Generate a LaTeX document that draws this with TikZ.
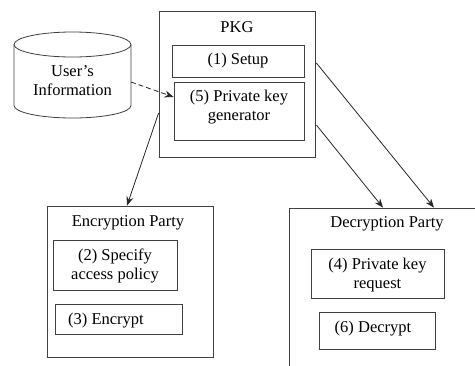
\documentclass[tikz,border=0pt]{standalone}
\usepackage{fontspec}
\setmainfont{Liberation Serif}
\usetikzlibrary{calc,arrows.meta}
\begin{document}
\begin{tikzpicture}[x=1pt,y=-1pt,
  box/.style={draw=black!75,line width=0.8pt,rectangle,inner sep=0pt},
  lbl/.style={font=\fontsize{16.5}{19}\selectfont,align=center,inner sep=0pt,text=black},
  arr/.style={draw=black!85,line width=0.8pt,-{Stealth[length=9pt,width=7pt]}}]
\useasboundingbox (0,0) rectangle (475,365);
\clip (0,0) rectangle (475,365);
% boxes
\node[box,minimum width=156pt,minimum height=146pt] (pkg) at (237,84) {};
\node[box,minimum width=132pt,minimum height=32pt] (setup) at (238,61) {};
\node[box,minimum width=130pt,minimum height=58pt] (gen) at (239,111) {};
\node[box,minimum width=166pt,minimum height=151pt] (enc) at (130,281.5) {};
\node[box,minimum width=124pt,minimum height=50pt] (spec) at (115,265) {};
\node[box,minimum width=127pt,minimum height=30pt] (encr) at (118.5,319) {};
\node[box,minimum width=196pt,minimum height=167pt] (dec) at (387,291.5) {};
\node[box,minimum width=133pt,minimum height=49pt] (req) at (377.5,273.5) {};
\node[box,minimum width=116pt,minimum height=37pt] (decr) at (377,330.5) {};
% cylinder
\draw[black!75,line width=0.8pt] (14,44.5) -- (14,105.5) arc[start angle=180,end angle=360,x radius=58.5pt,y radius=12.5pt] -- (131,44.5);
\draw[black!75,line width=0.8pt] (72.5,44.5) ellipse[x radius=58.5pt,y radius=12.5pt];
\coordinate (dbR) at (131,82);
% labels
\node[lbl] (dbt) at (72.5,80.5) {User’s\\Information};
\node[lbl] (pkgt) at (237,27) {PKG};
\node[lbl] (setupt) at (238,61) {(1) Setup};
\node[lbl] (gent) at (239,107) {(5) Private key\\generator};
\node[lbl] (enct) at (128,223) {Encryption Party};
\node[lbl] (spect) at (115,265.5) {(2) Specify\\access policy};
\node[lbl] (encrt) at (106,321) {(3) Encrypt};
\node[lbl] (dect) at (387,224) {Decryption Party};
\node[lbl] (reqt) at (377.5,275.5) {(4) Private key\\request};
\node[lbl] (decrt) at (373,329) {(6) Decrypt};
% connectors
\draw[arr,dashed,dash pattern=on 5pt off 3pt] (dbR) -- ($(gen.west)+(0,-14)$);
\draw[arr] ($(pkg.west)+(0,29)$) -- ($(enc.north)+(-3,0)$);
\draw[arr] ($(pkg.east)+(1,-21)$) -- ($(dec.north)+(47,0)$);
\draw[arr] ($(pkg.east)+(1,41)$) -- ($(dec.north)+(-4,0)$);
\end{tikzpicture}
\end{document}
